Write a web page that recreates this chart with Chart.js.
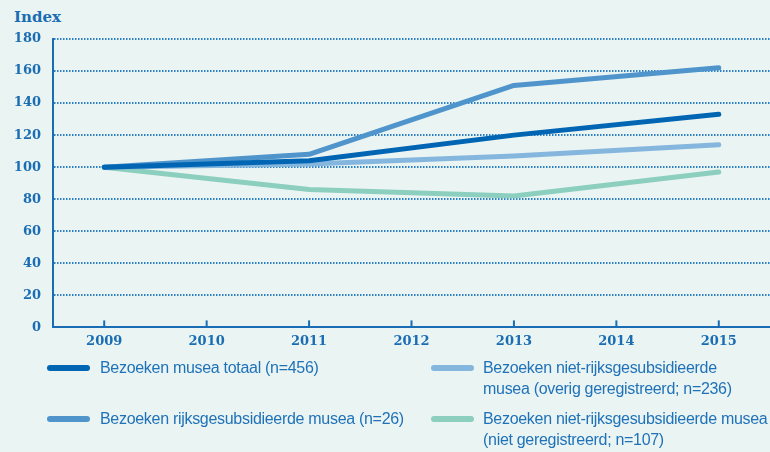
<!DOCTYPE html>
<html>
<head>
<meta charset="utf-8">
<script src="https://cdn.jsdelivr.net/npm/chart.js@4.4.1/dist/chart.umd.min.js"></script>
<style>
  html, body { margin: 0; padding: 0; background: #eaf4f3; }
  #wrap { position: relative; width: 770px; height: 452px; overflow: hidden; background: #eaf4f3; }
  #chartBox { position: absolute; left: 0; top: 0; width: 770px; height: 359px; }
  #yTitle { position: absolute; left: 14px; top: 8px; font: bold 15px "DejaVu Serif", serif; color: #1a6db3; }
  .leg { position: absolute; font: 16px "Liberation Sans Narrow", "Liberation Sans", sans-serif; letter-spacing: -0.3px; color: #1f72b8; line-height: 21px; }
  .sw { position: absolute; width: 43px; height: 6px; border-radius: 3px; }
</style>
</head>
<body>
<div id="wrap">
  <div id="yTitle">Index</div>
  <div id="chartBox"><canvas id="c"></canvas></div>
  <div id="legend"></div>
</div>
<script>
const years = ['2009', '2010', '2011', '2012', '2013', '2014', '2015'];
const totaal = [100, null, 104, null, 120, null, 133];
const rijks = [100, null, 108, null, 151, null, 162];
const overig = [100, null, 102, null, 107, null, 114];
const nietGeregistreerd = [100, null, 86, null, 82, null, 97];
const seriesLabels = [
  'Bezoeken musea totaal (n=456)',
  'Bezoeken rijksgesubsidieerde musea (n=26)',
  'Bezoeken niet-rijksgesubsidieerde musea (overig geregistreerd; n=236)',
  'Bezoeken niet-rijksgesubsidieerde musea (niet geregistreerd; n=107)'
];
const colors = ['#0066b3', '#4f95cc', '#85b6de', '#8ccfbf'];

const axisBlue = '#1a6db3';

const innerTicks = {
  id: 'innerTicks',
  afterDraw(chart) {
    const x = chart.scales.x, y = chart.scales.y;
    const ctx = chart.ctx;
    ctx.save();
    ctx.strokeStyle = axisBlue;
    ctx.lineWidth = 2;
    const base = y.getPixelForValue(0);
    x.ticks.forEach((t, i) => {
      const px = x.getPixelForTick(i);
      ctx.beginPath();
      ctx.moveTo(px, base);
      ctx.lineTo(px, base - 7);
      ctx.stroke();
    });
    ctx.restore();
  }
};

const mk = (label, data, color, order) => ({
  label, data, borderColor: color, backgroundColor: color,
  borderWidth: 5, pointRadius: 0, spanGaps: true, tension: 0,
  borderCapStyle: 'round', borderJoinStyle: 'round', order
});

new Chart(document.getElementById('c'), {
  type: 'line',
  data: {
    labels: years,
    datasets: [
      mk(seriesLabels[3], nietGeregistreerd, colors[3], 4),
      mk(seriesLabels[2], overig, colors[2], 3),
      mk(seriesLabels[1], rijks, colors[1], 2),
      mk(seriesLabels[0], totaal, colors[0], 1)
    ]
  },
  options: {
    responsive: true,
    maintainAspectRatio: false,
    animation: false,
    layout: { padding: { top: 39, right: -4, bottom: 4, left: 0 } },
    plugins: { legend: { display: false }, tooltip: { enabled: false } },
    scales: {
      x: {
        offset: true,
        grid: { display: false, drawTicks: false },
        border: { display: true, color: axisBlue, width: 2 },
        ticks: { color: axisBlue, padding: 6, font: { family: 'DejaVu Serif', weight: 'bold', size: 13 } }
      },
      y: {
        min: 0, max: 180,
        afterFit(scale) { scale.width = 53; },
        grid: {
          drawTicks: false,
          lineWidth: 2,
          color: ctx => ctx.tick && ctx.tick.value === 0 ? 'rgba(0,0,0,0)' : '#2d7fc4'
        },
        border: { display: true, color: axisBlue, width: 2, dash: [1.5, 1.5], dashOffset: 0 },
        ticks: { stepSize: 20, color: axisBlue, padding: 12, font: { family: 'DejaVu Serif', weight: 'bold', size: 13 } }
      }
    }
  },
  plugins: [innerTicks]
});

// HTML legend built from the series labels
const legendItems = [
  { i: 0, col: 0, row: 0, lines: [seriesLabels[0]] },
  { i: 2, col: 1, row: 0, lines: ['Bezoeken niet-rijksgesubsidieerde', 'musea (overig geregistreerd; n=236)'] },
  { i: 1, col: 0, row: 1, lines: [seriesLabels[1]] },
  { i: 3, col: 1, row: 1, lines: ['Bezoeken niet-rijksgesubsidieerde musea', '(niet geregistreerd; n=107)'] }
];
const legend = document.getElementById('legend');
legendItems.forEach(it => {
  const sx = it.col === 0 ? 47 : 431;
  const tx = it.col === 0 ? 100 : 483;
  const ty = it.row === 0 ? 357 : 408;
  const sw = document.createElement('div');
  sw.className = 'sw';
  sw.style.left = sx + 'px';
  sw.style.top = (ty + 8) + 'px';
  sw.style.background = colors[it.i];
  legend.appendChild(sw);
  const t = document.createElement('div');
  t.className = 'leg';
  t.style.left = tx + 'px';
  t.style.top = ty + 'px';
  t.style.whiteSpace = 'nowrap';
  t.innerHTML = it.lines.join('<br>');
  legend.appendChild(t);
});
</script>
</body>
</html>
